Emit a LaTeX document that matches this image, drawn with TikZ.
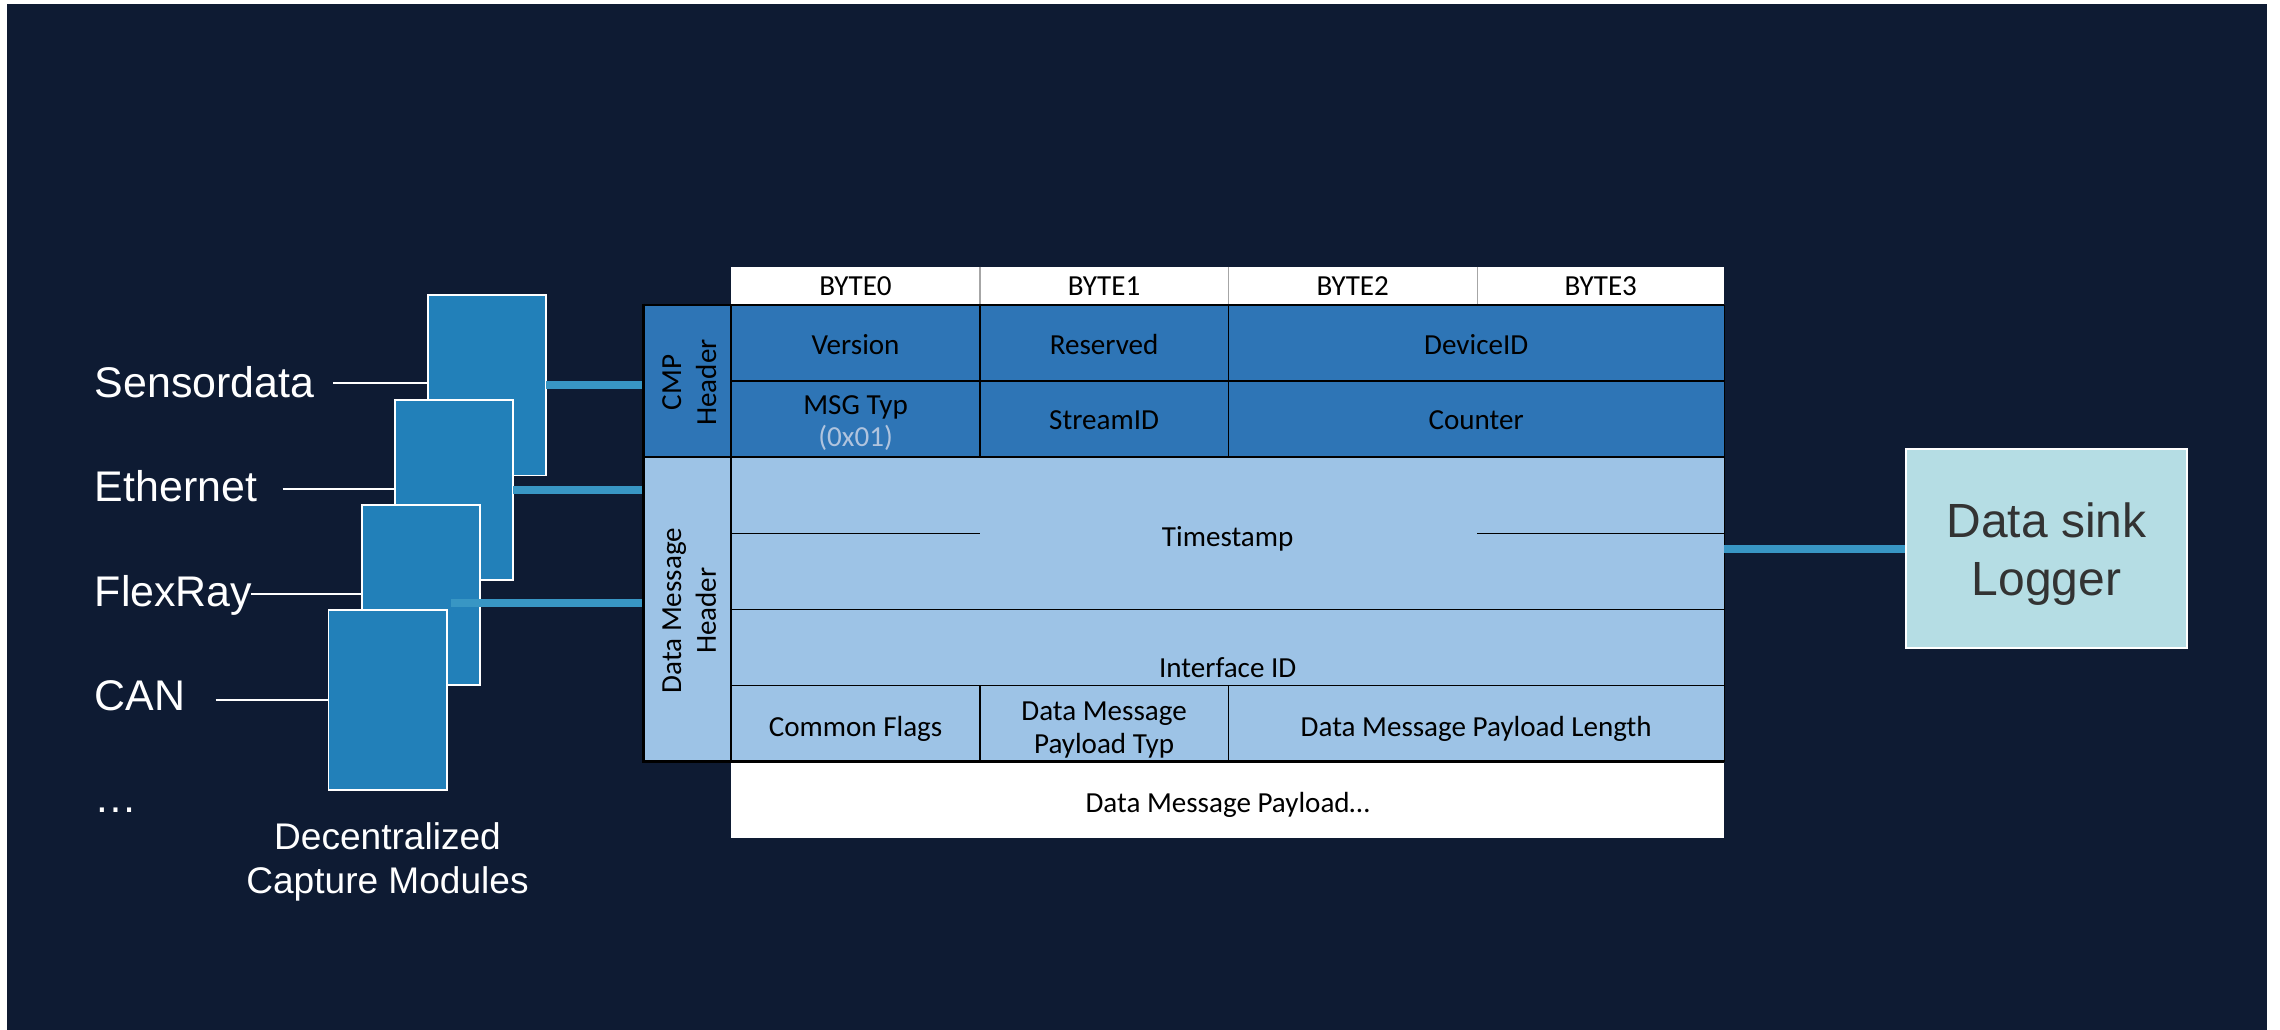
\documentclass[tikz,border=0pt]{standalone}
\usepackage{fontspec}
\setmainfont{Liberation Sans}
\newfontfamily\tabfont{Carlito}
\definecolor{bgc}{RGB}{14,27,51}
\definecolor{cmpc}{RGB}{46,117,182}
\definecolor{dmc}{RGB}{157,195,230}
\definecolor{modc}{RGB}{34,128,185}
\definecolor{conc}{RGB}{56,150,196}
\definecolor{sinkc}{RGB}{181,221,228}
\definecolor{hexc}{RGB}{176,196,222}
\definecolor{sinkt}{RGB}{51,51,51}
\begin{document}
\begin{tikzpicture}[x=1pt,y=-1pt,
  module/.style={draw=white,line width=1.3pt,fill=modc,minimum width=81.5pt,minimum height=124pt,inner sep=0pt,outer sep=0pt},
  lbl/.style={text=white,font=\fontsize{29.5}{34}\selectfont,inner sep=0pt,anchor=base west},
  lblline/.style={draw=white,line width=1.3pt},
  conn/.style={draw=conc,line width=5.5pt},
  area/.style={inner sep=0pt,outer sep=0pt,anchor=north west},
  cell/.style={font=\tabfont\fontsize{20}{22.4}\selectfont,text height=15pt,text depth=2pt,inner sep=0pt},
  celltwo/.style={font=\tabfont\fontsize{20}{22.4}\selectfont,align=center,inner sep=0pt},
  hdr/.style={font=\tabfont\fontsize{20}{24}\selectfont,align=center,rotate=90,inner sep=0pt},
  thinline/.style={draw=black,line width=0.8pt},
  thickline/.style={draw=black,line width=1.7pt},
  byteline/.style={draw=gray!70,line width=0.8pt}
]
\fill[white] (0,0) rectangle (1568,708.3);
\useasboundingbox (0,0) rectangle (1568,708.3);
\fill[bgc] (4.6,2.75) rectangle (1559,708.3);

% labels
\node[lbl] (lsens) at (65,273.3) {Sensordata};
\node[lbl] (leth) at (65,345) {Ethernet};
\node[lbl] (lflex) at (65,417) {FlexRay};
\node[lbl] (lcan) at (65,488.5) {CAN};
\node[lbl] (ldots) at (65,559) {…};

% modules
\node[module] (m1) at (335,265) {};
\node[module] (m2) at (312.3,337) {};
\node[module] (m3) at (289.4,409) {};
\node[module] (m4) at (266.7,481.4) {};

\node[text=white,font=\fontsize{25.5}{30.4}\selectfont,align=center,inner sep=0pt] (dcm) at (266.5,592.8) {Decentralized\\Capture Modules};

% label lines
\coordinate (l1) at (229.3,263.4);
\coordinate (l2) at (194.3,336.6);
\coordinate (l3) at (172.9,408.6);
\coordinate (l4) at (148.3,481.4);
\draw[lblline] (l1) -- (l1 -| m1.west);
\draw[lblline] (l2) -- (l2 -| m2.west);
\draw[lblline] (l3) -- (l3 -| m3.west);
\draw[lblline] (l4) -- (l4 -| m4.west);

% table areas
\node[area,fill=white,minimum width=683pt,minimum height=26.1pt] (byterow) at (502.8,183.4) {};
\node[area,fill=cmpc,minimum width=60.2pt,minimum height=104.9pt] (cmph) at (442.6,209.5) {};
\node[area,fill=dmc,minimum width=60.2pt,minimum height=209.4pt] (dmh) at (442.6,314.4) {};
\node[area,fill=cmpc,minimum width=683pt,minimum height=104.9pt] (cmpbody) at (502.8,209.5) {};
\node[area,fill=dmc,minimum width=683pt,minimum height=209.4pt] (dmbody) at (502.8,314.4) {};
\node[area,fill=white,minimum width=683pt,minimum height=52.7pt] (payload) at (502.8,523.8) {};

% connectors
\draw[conn] (m1.east) -- (m1.east -| cmph.west);
\draw[conn] (m2.east) -- (m2.east -| dmh.west);
\coordinate (c3) at (310,414.5);
\draw[conn] (c3) -- (c3 -| dmh.west);

% byte row lines
\draw[byteline] (674,183.4) -- (674,209.5);
\draw[byteline] (844.6,183.4) -- (844.6,209.5);
\draw[byteline] (1016,183.4) -- (1016,209.5);

% table lines
\draw[thinline] (502.8,262) -- (1185.8,262);
\draw[thinline] (502.8,367) -- (674,367);
\draw[thinline] (1016,367) -- (1185.8,367);
\draw[thinline] (502.8,419) -- (1185.8,419);
\draw[thinline] (502.8,471.6) -- (1185.8,471.6);
\draw[thinline] (674,209.5) -- (674,314.4);
\draw[thinline] (844.6,209.5) -- (844.6,314.4);
\draw[thinline] (674,471.6) -- (674,523.8);
\draw[thinline] (844.6,471.6) -- (844.6,523.8);
\draw[thinline] (1185.8,209.5) -- (1185.8,523.8);
\draw[thickline,line width=1.4pt] (442.6,209.5) -- (1185.8,209.5);
\draw[thickline] (442.6,314.4) -- (1185.8,314.4);
\draw[thickline] (442.6,523.8) -- (1185.8,523.8);
\draw[thickline,line width=1.5pt] (502.8,209.5) -- (502.8,523.8);
\draw[thickline,line width=1.8pt] (442.6,208.8) -- (442.6,524.6);

% header texts
\node[hdr] (tcmp) at (474,263) {CMP\\Header};
\node[hdr] (tdm) at (474,420) {Data Message\\Header};

% cell texts
\node[cell] (b0) at (588.4,197) {BYTE0};
\node[cell] (b1) at (759.3,197) {BYTE1};
\node[cell] (b2) at (930.3,197) {BYTE2};
\node[cell] (b3) at (1100.9,197) {BYTE3};
\node[cell] (tver) at (588.4,237) {Version};
\node[cell] (tres) at (759.3,237) {Reserved};
\node[cell] (tdev) at (1015.2,237) {DeviceID};
\node[celltwo] (tmsg) at (588.4,291) {MSG Typ\\\textcolor{hexc}{(0x01)}};
\node[cell] (tstr) at (759.3,289) {StreamID};
\node[cell] (tcnt) at (1015.2,289) {Counter};
\node[cell] (tts) at (844.3,369) {Timestamp};
\node[cell] (tif) at (844.3,459.5) {Interface ID};
\node[cell] (tcf) at (588.4,499.8) {Common Flags};
\node[celltwo] (tpt) at (759.3,502) {Data Message\\Payload Typ};
\node[cell] (tpl) at (1015.2,499.8) {Data Message Payload Length};
\node[cell] (tpay) at (844.3,552.5) {Data Message Payload…};

% data sink
\node[draw=white,line width=1.3pt,fill=sinkc,minimum width=193pt,minimum height=136.5pt,inner sep=0pt] (sink) at (1407.5,377.25) {};
\node[text=sinkt,font=\fontsize{33}{39.7}\selectfont,align=center,inner sep=0pt] (sinktext) at (1407.5,381.3) {Data sink\\Logger};
\draw[conn] (dmbody.east |- sink.west) -- (sink.west);
\end{tikzpicture}
\end{document}
